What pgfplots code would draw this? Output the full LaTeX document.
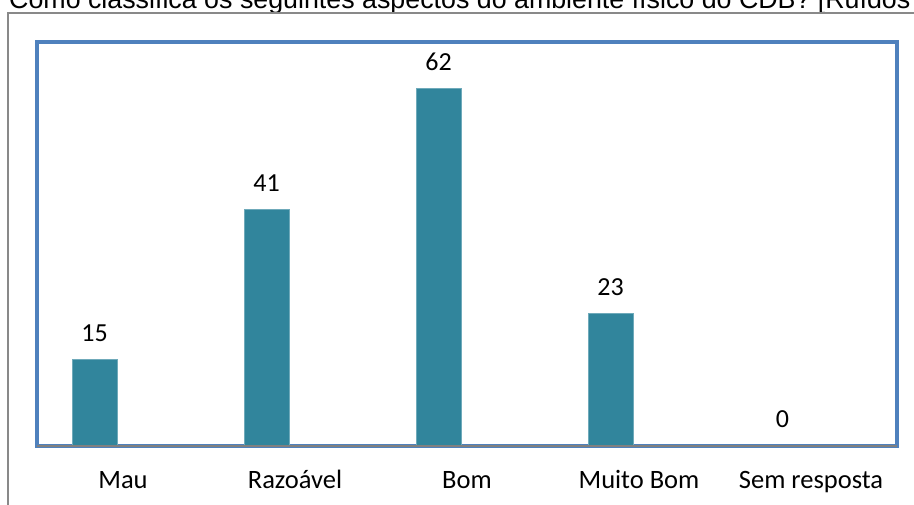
\documentclass[border=0pt]{standalone}
\usepackage{pgfplots}
\pgfplotsset{compat=1.18}
\usepackage{fontspec}
\setmainfont{Carlito}
\newfontfamily\arial{Liberation Sans}
\definecolor{barcol}{HTML}{31859C}
\definecolor{framecol}{HTML}{4F81BD}
\definecolor{outergray}{HTML}{898989}
\begin{document}
\begin{tikzpicture}[x=1pt,y=1pt]
\clip (0,0) rectangle (914,505);
\fill[white] (0,0) rectangle (914,505);
\node[anchor=base west, inner sep=0pt, font=\arial\fontsize{26.8}{30}\selectfont] at (9,496) {Como classifica os seguintes aspectos do ambiente físico do CDB? [Ruídos};
\draw[outergray, line width=1.3pt] (8,-5) -- (8,492) -- (920,492);
\begin{axis}[
  at={(37pt,59pt)}, anchor=south west,
  scale only axis, width=860pt, height=404pt,
  xmin=-0.5, xmax=4.5, ymin=0, ymax=70,
  axis line style={framecol, line width=4.5pt},
  ytick=\empty,
  xtick={0,1,2,3,4},
  xticklabels={Mau,Razoável,Bom,Muito Bom,Sem resposta},
  major tick length=0pt,
  xticklabel style={anchor=base, yshift=-43pt, inner sep=0pt, font=\fontsize{26.5}{29}\selectfont},
  ybar, bar width=45pt, bar shift=-28.5pt,
  /pgf/number format/assume math mode=true,
  nodes near coords,
  every node near coord/.append style={anchor=base, yshift=18pt, inner sep=0pt, font=\fontsize{26}{29}\selectfont, black},
  clip=false,
]
\addplot[fill=barcol, draw=barcol!70!white, line width=0.6pt] coordinates {(0,15) (1,41) (2,62) (3,23) (4,0)};
\draw[gray, line width=1.5pt] (axis cs:-0.5,0) -- (axis cs:4.5,0);
\end{axis}
\end{tikzpicture}
\end{document}
